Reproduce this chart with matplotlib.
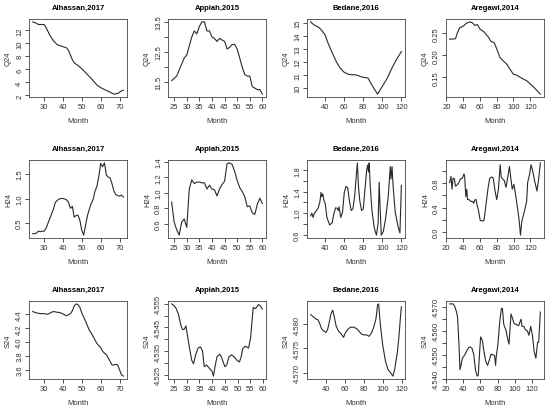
import matplotlib
matplotlib.use('Agg')
import matplotlib.pyplot as plt

plt.rcParams['font.family'] = ['Liberation Sans', 'DejaVu Sans']

studies = ['Alhassan,2017', 'Appiah,2015', 'Bedane,2016', 'Aregawi,2014']
ylabels = ['Q24', 'H24', 'S24']

# ---- Q24 ----
q_alh_x = [24, 26, 27, 30, 31, 33, 35, 37, 40, 42, 43, 45, 46, 48, 50, 55, 58, 60, 62, 65, 67, 69, 71, 72]
q_alh_y = [13.3, 13.1, 12.9, 12.9, 12.5, 11.3, 10.4, 9.8, 9.5, 9.3, 8.9, 7.5, 7.0, 6.6, 6.1, 4.6, 3.6, 3.2,
           2.9, 2.5, 2.2, 2.3, 2.7, 2.8]
q_app_x = list(range(24, 61))
q_app_y = [11.55, 11.62, 11.7, 11.9, 12.1, 12.3, 12.4, 12.7, 13.0, 13.2, 13.1, 13.35, 13.5, 13.5, 13.2, 13.2,
           13.0, 12.95, 12.85, 12.95, 12.9, 12.85, 12.6, 12.65, 12.75, 12.75, 12.6, 12.3, 12.0, 11.75, 11.7,
           11.7, 11.35, 11.3, 11.25, 11.25, 11.1]
q_bed_x = [25, 28, 30, 33, 36, 40, 43, 47, 52, 56, 60, 64, 68, 72, 76, 80, 85, 90, 95, 100, 105, 110, 115, 120]
q_bed_y = [15.1, 14.9, 14.8, 14.7, 14.5, 14.1, 13.5, 12.8, 12.0, 11.5, 11.2, 11.05, 11.0, 11.0, 10.9, 10.8,
           10.75, 10.1, 9.5, 10.1, 10.7, 11.5, 12.2, 12.8]
q_are_x = [24, 28, 31, 33, 36, 40, 44, 48, 51, 54, 57, 60, 65, 70, 73, 77, 80, 84, 88, 92, 96, 100, 104, 108,
           112, 116, 120, 124, 128, 132]
q_are_y = [0.237, 0.237, 0.238, 0.25, 0.263, 0.266, 0.273, 0.276, 0.274, 0.268, 0.270, 0.26, 0.253, 0.242,
           0.232, 0.229, 0.215, 0.195, 0.187, 0.18, 0.168, 0.157, 0.155, 0.15, 0.146, 0.142, 0.135, 0.128,
           0.12, 0.112]

# ---- H24 ----
h_alh_x = list(range(24, 73))
h_alh_y = [0.28, 0.28, 0.29, 0.33, 0.32, 0.33, 0.33, 0.38, 0.48, 0.58, 0.68, 0.78, 0.92, 0.96, 0.99, 1.0, 1.0,
           0.99, 0.97, 0.92, 0.8, 0.84, 0.62, 0.65, 0.66, 0.55, 0.35, 0.25, 0.45, 0.65, 0.78, 0.9, 0.98, 1.15,
           1.25, 1.45, 1.72, 1.65, 1.73, 1.48, 1.44, 1.42, 1.3, 1.15, 1.08, 1.06, 1.05, 1.07, 1.03]
h_app_x = list(range(24, 61))
h_app_y = [0.88, 0.62, 0.52, 0.45, 0.62, 0.66, 0.55, 1.05, 1.17, 1.12, 1.14, 1.14, 1.13, 1.13, 1.05, 1.1, 1.05,
           1.04, 0.96, 1.05, 1.11, 1.15, 1.38, 1.39, 1.37, 1.28, 1.16, 1.07, 1.02, 0.95, 0.82, 0.83, 0.74,
           0.72, 0.85, 0.93, 0.86]
h_bed_x = [24.7, 26, 27.3, 28.4, 30.9, 32.7, 34.5, 35.6, 36.4, 37.5, 38.5, 40, 41.8, 44.7, 47.3, 49.1, 50.9,
           52.7, 53.8, 54.5, 56.4, 58.2, 60, 61.8, 63.6, 65.5, 67.3, 69.1, 70.9, 72.7, 73.8, 74.9, 76.4, 78.2,
           80, 81.8, 83.6, 84.7, 85.5, 86.2, 87.3, 89.1, 91.6, 93.8, 95.6, 96.7, 97.5, 98.9, 101.1, 103.6,
           106.2, 108.4, 109.1, 110.2, 111.3, 113.5, 116.4, 118.5, 120]
h_bed_y = [0.95, 1.0, 0.92, 0.99, 1.05, 1.1, 1.22, 1.39, 1.31, 1.36, 1.25, 1.18, 0.92, 0.78, 0.82, 0.99, 1.1,
           1.09, 1.05, 1.12, 0.92, 1.02, 1.38, 1.5, 1.48, 1.22, 1.05, 1.08, 1.31, 1.71, 1.94, 1.51, 1.22, 1.05,
           1.08, 1.45, 1.81, 1.9, 1.77, 1.94, 1.51, 1.05, 0.72, 0.59, 0.82, 1.58, 1.18, 0.59, 0.66, 0.92, 1.31,
           1.87, 1.64, 1.87, 1.51, 1.02, 0.76, 0.63, 1.52]
h_are_x = [24.1, 25.7, 26.9, 28.2, 29.8, 31.0, 33.1, 35.1, 37.1, 39.2, 41.2, 42.0, 43.3, 44.5, 45.3, 47.3,
           49.4, 51.4, 52.7, 54.3, 55.5, 56.7, 58.4, 60.4, 62.9, 64.9, 66.9, 69.8, 71.8, 73.9, 75.9, 78.0,
           80.0, 82.0, 84.1, 85.3, 86.9, 89.0, 91.0, 93.5, 95.1, 96.3, 98.4, 100.4, 102.4, 104.5, 106.5,
           108.2, 109.8, 112.7, 115.5, 116.7, 118.8, 120.8, 122.9, 124.9, 127.8, 129.8, 131.8]
h_are_y = [0.81, 0.91, 0.70, 0.88, 0.87, 0.75, 0.77, 0.81, 0.87, 0.88, 0.95, 0.90, 0.58, 0.70, 0.53, 0.53,
           0.50, 0.50, 0.47, 0.53, 0.53, 0.44, 0.35, 0.19, 0.18, 0.19, 0.41, 0.73, 0.88, 0.90, 0.88, 0.67,
           0.53, 0.70, 1.10, 0.90, 0.87, 0.84, 0.73, 0.93, 1.07, 0.93, 0.70, 0.78, 0.61, 0.41, 0.21, -0.05,
           0.18, 0.33, 0.50, 0.81, 0.93, 1.10, 0.98, 0.84, 0.67, 0.87, 1.13]

# ---- S24 ----
s_alh_x = [24, 26, 28, 30, 32, 34, 35, 37, 39, 41, 42, 44, 45, 46, 47, 48, 49, 50, 52, 54, 55, 57, 58, 60,
           61, 62, 63, 64, 65, 66, 67, 68, 69, 70, 71, 72]
s_alh_y = [4.44, 4.42, 4.41, 4.41, 4.40, 4.43, 4.44, 4.43, 4.42, 4.39, 4.38, 4.41, 4.45, 4.52, 4.55, 4.54,
           4.50, 4.42, 4.30, 4.17, 4.13, 4.03, 3.98, 3.92, 3.87, 3.84, 3.82, 3.77, 3.72, 3.67, 3.67, 3.68,
           3.67, 3.60, 3.53, 3.51]
s_app_x = [24.1, 25, 25.9, 26.8, 27.7, 28.4, 29.1, 29.7, 30.1, 31.1, 32, 32.7, 33.5, 34.5, 35.4, 36.2, 36.9,
           37.8, 38.9, 39.9, 40.5, 41.2, 41.9, 43, 43.6, 44.3, 45, 45.7, 46.6, 47.6, 48.6, 49.7, 50.7, 51.4,
           52, 53, 53.8, 54.3, 55.1, 56.1, 56.8, 57.4, 58.1, 58.8, 59.7]
s_app_y = [4.555, 4.5543, 4.553, 4.5505, 4.546, 4.5441, 4.5443, 4.5457, 4.543, 4.5363, 4.5311, 4.5296,
           4.5334, 4.5363, 4.5368, 4.5351, 4.5284, 4.5291, 4.5277, 4.5266, 4.5244, 4.5289, 4.5326, 4.5337,
           4.5326, 4.5304, 4.5284, 4.5291, 4.5326, 4.5334, 4.5326, 4.5311, 4.5304, 4.5326, 4.536, 4.5371,
           4.5366, 4.5363, 4.5408, 4.5535, 4.553, 4.5534, 4.5547, 4.5543, 4.5528]
s_bed_x = [24.3, 26.8, 29.6, 32.1, 33.9, 35.7, 37.5, 40.4, 42.1, 43.9, 45.7, 47.5, 49.3, 51.1, 53.6, 56.4,
           58.9, 60.7, 63.2, 66.1, 69.6, 72.5, 75, 77.5, 80.4, 83.2, 85.7, 88.2, 90.4, 92.9, 94.6, 95.7,
           97.5, 100, 102.9, 105.4, 108.2, 110.7, 112.5, 115.4, 117.1, 118.9, 119.6]
s_bed_y = [4.5820, 4.5816, 4.5811, 4.5809, 4.5801, 4.5791, 4.5787, 4.5783, 4.5789, 4.5804, 4.5822, 4.5829,
           4.5814, 4.5796, 4.5786, 4.5780, 4.5773, 4.5782, 4.5789, 4.5794, 4.5794, 4.5791, 4.5786, 4.5780,
           4.5778, 4.5778, 4.5775, 4.5782, 4.5793, 4.5811, 4.5840, 4.5842, 4.5800, 4.5757, 4.5724, 4.5707,
           4.5700, 4.5693, 4.5706, 4.5742, 4.5775, 4.5822, 4.5836]
s_are_x = [24, 28.1, 30.1, 32.1, 33.3, 34.9, 36.1, 37.3, 38.9, 41.4, 44.2, 46.2, 48.2, 50.2, 52.3, 54.3, 56.3,
           57.5, 59.1, 60.3, 62.3, 64.4, 66.4, 68.4, 70.4, 72.4, 74.4, 76.5, 77.7, 78.5, 80.5, 82.5, 84.5,
           85.7, 87.3, 89.8, 91.4, 93.4, 95.8, 97.8, 99.4, 101.9, 104.7, 105.9, 107.5, 108.7, 110.7, 112.7,
           114.8, 116.8, 118.8, 120.8, 122.8, 124.8, 126.9, 128.1, 130.1]
s_are_y = [4.5712, 4.5712, 4.570, 4.5678, 4.5655, 4.5544, 4.5437, 4.5455, 4.5485, 4.5497, 4.5517, 4.5529,
           4.5532, 4.5526, 4.5499, 4.5433, 4.5410, 4.5413, 4.5514, 4.5574, 4.5559, 4.5507, 4.5470, 4.5455,
           4.5477, 4.5502, 4.5499, 4.5497, 4.5455, 4.5492, 4.5544, 4.5633, 4.5693, 4.5693, 4.5626, 4.5603,
           4.5574, 4.5544, 4.567, 4.5648, 4.5630, 4.5626, 4.5621, 4.5633, 4.5648, 4.5618, 4.5618, 4.5603,
           4.560, 4.5581, 4.5618, 4.5581, 4.5514, 4.5485, 4.5551, 4.5551, 4.5678]

series = [
    [(q_alh_x, q_alh_y), (q_app_x, q_app_y), (q_bed_x, q_bed_y), (q_are_x, q_are_y)],
    [(h_alh_x, h_alh_y), (h_app_x, h_app_y), (h_bed_x, h_bed_y), (h_are_x, h_are_y)],
    [(s_alh_x, s_alh_y), (s_app_x, s_app_y), (s_bed_x, s_bed_y), (s_are_x, s_are_y)],
]

xticks = [[30, 40, 50, 60, 70], [25, 30, 35, 40, 45, 50, 55, 60],
          [40, 60, 80, 100, 120], [20, 40, 60, 80, 100, 120]]

yticks = [
    [[2, 4, 6, 8, 10, 12], [11.5, 12, 12.5, 13, 13.5], [10, 11, 12, 13, 14, 15], [0.15, 0.20, 0.25]],
    [[0.5, 1.0, 1.5], [0.6, 0.8, 1.0, 1.2, 1.4], [0.6, 0.8, 1.0, 1.2, 1.4, 1.6, 1.8],
     [0.0, 0.2, 0.4, 0.6, 0.8, 1.0, 1.2]],
    [[3.6, 3.8, 4.0, 4.2, 4.4], [4.525, 4.530, 4.535, 4.540, 4.545, 4.550, 4.555],
     [4.570, 4.575, 4.580, 4.585], [4.540, 4.545, 4.550, 4.555, 4.560, 4.565, 4.570]],
]
ytlabels = [
    [['2', '4', '6', '8', '10', '12'], ['11.5', '', '12.5', '', '13.5'],
     ['10', '11', '12', '13', '14', '15'], ['0.15', '0.20', '0.25']],
    [['0.5', '1.0', '1.5'], ['0.6', '0.8', '1.0', '1.2', '1.4'],
     ['0.6', '', '1.0', '', '1.4', '', '1.8'], ['0.0', '', '0.4', '', '0.8', '', '1.2']],
    [['3.6', '3.8', '4.0', '4.2', '4.4'], ['4.525', '', '4.535', '', '4.545', '', '4.555'],
     ['4.570', '4.575', '4.580', '4.585'], ['4.540', '', '4.550', '', '4.560', '', '4.570']],
]

W, H = 550, 410
fig = plt.figure(figsize=(5.5, 4.1), dpi=100)
col_left = [29, 168, 307, 446]
row_top = [20, 161, 302]
aw, ah = 98, 78

def padded(v):
    lo, hi = min(v), max(v)
    d = (hi - lo) * 0.04
    return lo - d, hi + d

for r in range(3):
    for c in range(4):
        ax = fig.add_axes([col_left[c] / W, 1 - (row_top[r] + ah) / H, aw / W, ah / H])
        x, y = series[r][c]
        ax.plot(x, y, color='#2a2a2a', lw=0.8)
        ax.set_xticks(xticks[c])
        ax.set_yticks(yticks[r][c], ytlabels[r][c])
        ax.set_xlim(*padded(x))
        ax.set_ylim(*padded(y))
        ax.tick_params(axis='both', direction='out', length=3, width=0.6, labelsize=5.5,
                       color='#333333', labelcolor='#333333')
        ax.tick_params(axis='x', pad=1.5)
        ax.tick_params(axis='y', pad=1.2, labelrotation=90)
        for lab in ax.get_yticklabels():
            lab.set_verticalalignment('center')
        for s in ax.spines.values():
            s.set_linewidth(0.6)
            s.set_color('#444444')
        ax.set_title(studies[c], fontsize=5.5, fontweight='bold', pad=7)
        ax.set_xlabel('Month', fontsize=5.5, labelpad=5, color='#333333')
        ax.set_ylabel(ylabels[r], fontsize=5.5, labelpad=3, color='#333333')

fig.savefig('out.png', dpi=100)
